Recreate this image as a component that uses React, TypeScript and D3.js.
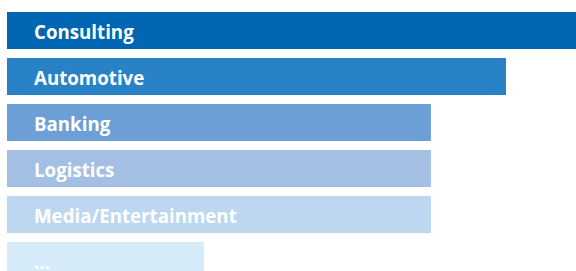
import React, { useEffect, useRef } from "react";
import * as d3 from "d3";

const categories = ["Consulting", "Automotive", "Banking", "Logistics", "Media/Entertainment", "..."];
const values = [100, 87.7, 74.5, 74.5, 74.5, 34.6];
const colors = ["#0066b3", "#2a82c6", "#6c9fd5", "#a4bfe4", "#bdd7f1", "#d5ebfa"];

const App = () => {
  const svgRef = useRef<SVGSVGElement>(null);

  useEffect(() => {
    const svg = d3.select(svgRef.current);
    svg.selectAll("*").remove();

    const x = d3.scaleLinear().domain([0, 100]).range([0, 569]);
    const y = d3
      .scaleBand()
      .domain(categories)
      .range([12, 279])
      .paddingInner(9 / 46)
      .paddingOuter(0);

    const rows = svg
      .selectAll("g.row")
      .data(categories)
      .enter()
      .append("g")
      .attr("class", "row")
      .attr("transform", (d) => "translate(7," + y(d) + ")");

    rows
      .append("rect")
      .attr("width", (d, i) => x(values[i]))
      .attr("height", y.bandwidth())
      .attr("fill", (d, i) => colors[i]);

    // labels sit inside the bars
    rows
      .append("text")
      .attr("x", 27)
      .attr("y", y.bandwidth() / 2 + 8.5)
      .attr("fill", "#fff")
      .attr("font-family", "'Open Sans', sans-serif")
      .attr("font-weight", "bold")
      .attr("font-size", 18.7)
      .text((d) => d);
  }, []);

  return (
    <svg
      ref={svgRef}
      width={576}
      height={271}
      style={{ position: "absolute", left: 0, top: 0, background: "#fff" }}
    ></svg>
  );
};

export default App;
